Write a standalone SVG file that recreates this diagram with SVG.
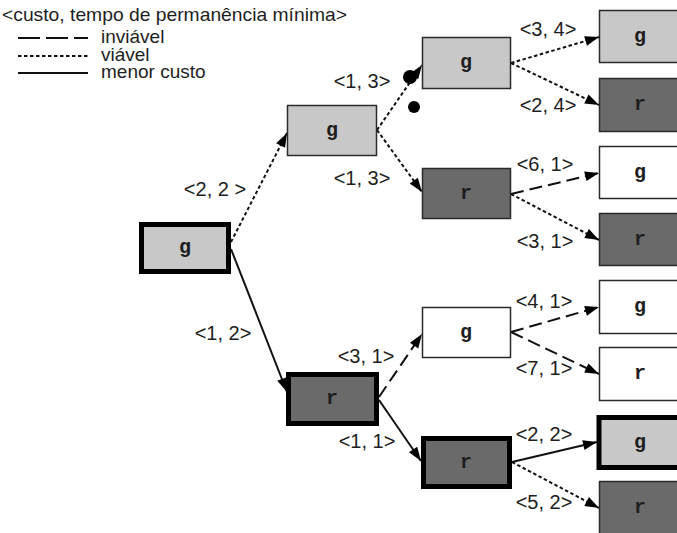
<svg xmlns="http://www.w3.org/2000/svg" width="677" height="533" viewBox="0 0 677 533">
  <style>
    .lbl{font-family:"Liberation Sans",Arial,sans-serif;font-size:20px;fill:#1e1e1e}
    .leg{font-family:"Liberation Sans",Arial,sans-serif;font-size:19px;fill:#1e1e1e}
    .mid{text-anchor:middle}
    .nl{font-family:"Liberation Mono","Courier New",monospace;font-size:20px;font-weight:bold;fill:#1e1e1e;text-anchor:middle}
    .box{stroke:#2a2a2a;stroke-width:1.5}
    .thick{stroke:#000;stroke-width:5}
    .light{fill:#c8c8c8}
    .dark{fill:#6a6a6a}
    .white{fill:#fff}
    .e{fill:none;stroke:#111;stroke-width:2}
    .dot{stroke-dasharray:3.5 2.5}
    .dash{stroke-dasharray:13 6}
    .arr{marker-end:url(#ah)}
  </style>
  <defs>
    <marker id="ah" markerUnits="userSpaceOnUse" markerWidth="15" markerHeight="11" refX="14" refY="5" orient="auto" overflow="visible">
      <path d="M0,0 L14,5 L0,10 z" fill="#000"/>
    </marker>
  </defs>
  <rect width="677" height="533" fill="#fff"/>

  <!-- legend -->
  <g id="legend">
    <text class="leg" x="2" y="21" textLength="345" lengthAdjust="spacingAndGlyphs">&lt;custo, tempo de permanência mínima&gt;</text>
    <path class="e" d="M18,38 L88,38" stroke-dasharray="22 6"/>
    <text class="leg" x="101" y="43">inviável</text>
    <path class="e dot" d="M18,56 L88,56"/>
    <text class="leg" x="101" y="61">viável</text>
    <path class="e" d="M18,73 L88,73"/>
    <text class="leg" x="101" y="78">menor custo</text>
  </g>

  <!-- connectors -->
  <g id="edges">
    <path class="e dot arr" d="M231,242 L287,133"/>
    <path class="e arr" d="M231,249 L287,392"/>
    <path class="e dot arr" d="M377,130 L422,65"/>
    <path class="e dot arr" d="M377,130 L422,192"/>
    <path class="e dash arr" d="M379,397 L422,334"/>
    <path class="e arr" d="M379,400 L421,461"/>
    <path class="e dot arr" d="M511,63 L599,37"/>
    <path class="e dot arr" d="M511,63 L599,105"/>
    <path class="e dash arr" d="M511,194 L599,173"/>
    <path class="e dot arr" d="M511,194 L599,240"/>
    <path class="e dash arr" d="M511,332 L599,307"/>
    <path class="e dash arr" d="M511,332 L599,374"/>
    <path class="e arr" d="M512,462 L597,442"/>
    <path class="e dot arr" d="M512,462 L599,508"/>
    <circle cx="410" cy="77" r="7" fill="#000"/>
    <circle cx="414" cy="107" r="6" fill="#000"/>
  </g>

  <!-- edge labels -->
  <g id="edge-labels" class="lbl mid">
    <text x="215" y="196">&lt;2, 2 &gt;</text>
    <text x="223" y="340">&lt;1, 2&gt;</text>
    <text x="362" y="88">&lt;1, 3&gt;</text>
    <text x="362" y="185">&lt;1, 3&gt;</text>
    <text x="366" y="363">&lt;3, 1&gt;</text>
    <text x="367" y="448">&lt;1, 1&gt;</text>
    <text x="548" y="36">&lt;3, 4&gt;</text>
    <text x="548" y="112">&lt;2, 4&gt;</text>
    <text x="545" y="171">&lt;6, 1&gt;</text>
    <text x="545" y="248">&lt;3, 1&gt;</text>
    <text x="544" y="308">&lt;4, 1&gt;</text>
    <text x="544" y="375">&lt;7, 1&gt;</text>
    <text x="544" y="441">&lt;2, 2&gt;</text>
    <text x="544" y="509">&lt;5, 2&gt;</text>
  </g>

  <!-- nodes -->
  <g id="n-root"><rect class="thick light" x="141.5" y="224.5" width="87" height="47"/><text class="nl" x="185" y="253">g</text></g>
  <g id="n-g1"><rect class="box light" x="287.5" y="105.5" width="89" height="50"/><text class="nl" x="332" y="136">g</text></g>
  <g id="n-r1"><rect class="thick dark" x="288.5" y="374.5" width="88" height="49"/><text class="nl" x="332" y="404">r</text></g>
  <g id="n-gg"><rect class="box light" x="422.5" y="37.5" width="88" height="51"/><text class="nl" x="466" y="68">g</text></g>
  <g id="n-gr"><rect class="box dark" x="422.5" y="168.5" width="88" height="50"/><text class="nl" x="466" y="199">r</text></g>
  <g id="n-rg"><rect class="box white" x="422.5" y="307.5" width="88" height="50"/><text class="nl" x="466" y="338">g</text></g>
  <g id="n-rr"><rect class="thick dark" x="423.5" y="438.5" width="86" height="48"/><text class="nl" x="466" y="468">r</text></g>
  <g id="n-ggg"><rect class="box light" x="599.5" y="10.5" width="82" height="52"/><text class="nl" x="640" y="42">g</text></g>
  <g id="n-ggr"><rect class="box dark" x="599.5" y="78.5" width="82" height="53"/><text class="nl" x="640" y="110">r</text></g>
  <g id="n-grg"><rect class="box white" x="599.5" y="146.5" width="82" height="52"/><text class="nl" x="640" y="178">g</text></g>
  <g id="n-grr"><rect class="box dark" x="599.5" y="213.5" width="82" height="52"/><text class="nl" x="640" y="245">r</text></g>
  <g id="n-rgg"><rect class="box white" x="599.5" y="280.5" width="82" height="53"/><text class="nl" x="640" y="312">g</text></g>
  <g id="n-rgr"><rect class="box white" x="599.5" y="347.5" width="82" height="53"/><text class="nl" x="640" y="379">r</text></g>
  <g id="n-rrg"><rect class="thick light" x="599" y="417.5" width="82" height="50"/><text class="nl" x="640" y="448">g</text></g>
  <g id="n-rrr"><rect class="box dark" x="599.5" y="481.5" width="82" height="60"/><text class="nl" x="640" y="513">r</text></g>
</svg>
